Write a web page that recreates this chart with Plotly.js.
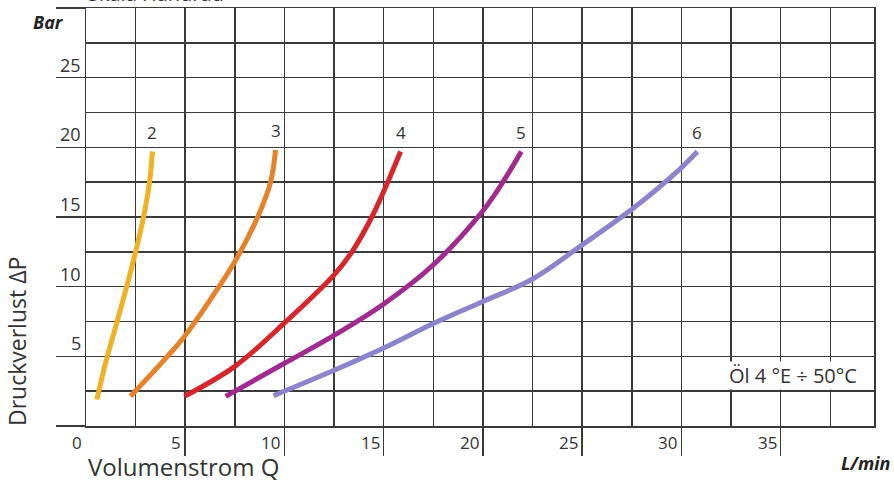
<!DOCTYPE html>
<html>
<head>
<meta charset="utf-8">
<script src="https://cdn.plot.ly/plotly-3.0.1.min.js"></script>
<style>html,body{margin:0;padding:0;background:#fff;}#chart{width:894px;height:480px;}</style>
</head>
<body>
<div id="chart"></div>
<script>
// ---- data ----
const curveNames = ['2', '3', '4', '5', '6'];
const q2 = [0.55, 1.0, 1.55, 2.05, 2.5, 2.9, 3.2, 3.35];
const p2 = [1.9, 4.6, 7.4, 10, 12.5, 15, 17.5, 19.7];
const q3 = [2.24, 4.1, 5.0, 6.7, 7.5, 8.65, 9.3, 9.55];
const p3 = [2.13, 5.0, 6.5, 10, 11.8, 15, 17.5, 19.8];
const q4 = [4.96, 7.5, 10, 12.5, 13.4, 14.4, 15.2, 15.85];
const p4 = [2.13, 4.28, 7.4, 10.85, 12.5, 15, 17.5, 19.7];
const q5 = [7.04, 10, 12.5, 15, 17.5, 20, 21.0, 21.93];
const p5 = [2.13, 4.5, 6.5, 8.75, 11.57, 15.45, 17.5, 19.7];
const q6 = [9.45, 12.5, 15, 17.5, 20, 22.5, 25, 27.5, 30, 30.8];
const p6 = [2.18, 4.0, 5.6, 7.36, 8.94, 10.55, 13.0, 15.55, 18.55, 19.7];
const curveColors = ['#f2b124', '#e8822a', '#d7262b', '#a02a8f', '#8a85cd'];

const xTickVals = [0, 5, 10, 15, 20, 25, 30, 35];
const xTickText = ['0', '5', '10', '15', '20', '25', '30', '35'];
const yTickVals = [0, 5, 10, 15, 20, 25, 30];
const yTickText = ['', '5', '10', '15', '20', '25', ''];

const xTitle = 'Volumenstrom Q';
const yTitle = 'Druckverlust ΔP';
const xUnit = 'L/min';
const yUnit = 'Bar';
const noteText = 'Öl 4 °E ÷ 50°C';
const topText = 'Skala Handrad';

// ---- build ----
const qs = [q2, q3, q4, q5, q6];
const ps = [p2, p3, p4, p5, p6];
const GRID = '#3a3a3a';
const TXT = '#333333';
const FONT = 'Open Sans, Noto Sans, sans-serif';

const traces = curveNames.map((n, i) => ({
  x: qs[i], y: ps[i], name: n, type: 'scatter', mode: 'lines',
  line: {color: curveColors[i], width: 5, shape: 'spline', smoothing: 1},
  hoverinfo: 'skip'
}));

const annotations = [];
// curve numbers above the upper end of each curve
curveNames.forEach((n, i) => {
  const xs = qs[i], ys = ps[i];
  annotations.push({
    x: xs[xs.length - 1], y: ys[ys.length - 1], xref: 'x', yref: 'y',
    text: n, showarrow: false, xanchor: 'center', yanchor: 'bottom', yshift: 6,
    font: {family: FONT, size: 17, color: TXT}
  });
});
// x tick labels: left of the tick line, just under the axis
xTickVals.forEach((v, i) => {
  annotations.push({x: v, y: 0, xref: 'x', yref: 'paper', text: xTickText[i],
    showarrow: false, xanchor: 'right', yanchor: 'top', xshift: -2, yshift: -3,
    font: {family: FONT, size: 17, color: TXT}});
});
// y tick labels: above the tick line, left of the axis
yTickVals.forEach((v, i) => {
  if (!yTickText[i]) return;
  annotations.push({x: 0, y: v, xref: 'paper', yref: 'y', text: yTickText[i],
    showarrow: false, xanchor: 'right', yanchor: 'bottom', xshift: -3, yshift: -1,
    font: {family: FONT, size: 18, color: TXT}});
});
function pa(text, x, y, size, extra) {
  annotations.push(Object.assign({x: x, y: y, xref: 'paper', yref: 'paper', text: text,
    showarrow: false, xanchor: 'center', yanchor: 'middle',
    font: {family: FONT, size: size, color: TXT}}, extra || {}));
}
pa('<b><i>' + yUnit + '</i></b>', -0.0482, 0.9665, 18, {font: {family: FONT, size: 18, color: '#222'}});
pa('<b><i>' + xUnit + '</i></b>', 0.9886, -0.0885, 18, {font: {family: FONT, size: 18, color: '#222'}});
pa(xTitle, 0, -0.098, 24, {xanchor: 'left'});
pa(yTitle, -0.0876, 0.2033, 23, {textangle: -90});
pa(topText, 0.0888, 1.034, 20);
annotations.push({x: 38.9, y: 3.6, xref: 'x', yref: 'y', text: noteText, xanchor: 'right', yanchor: 'middle',
  showarrow: false, bgcolor: '#ffffff', borderpad: 0,
  font: {family: FONT, size: 20, color: TXT}});

const layout = {
  width: 894, height: 480,
  margin: {l: 86, r: 20, t: 8, b: 54},
  paper_bgcolor: '#ffffff', plot_bgcolor: '#ffffff',
  showlegend: false,
  font: {family: FONT, color: TXT},
  xaxis: {
    range: [0, 39.7], tickmode: 'array', tickvals: xTickVals.slice(1),
    ticks: 'outside', ticklen: 28, tickwidth: 1.5, tickcolor: GRID, showticklabels: false,
    showgrid: true, gridcolor: GRID, gridwidth: 1.5,
    minor: {tickmode: 'linear', tick0: 0, dtick: 2.5, showgrid: true, gridcolor: GRID, gridwidth: 1.5, ticks: ''},
    showline: true, mirror: true, linecolor: GRID, linewidth: 1.5, zeroline: false, fixedrange: true
  },
  yaxis: {
    range: [0, 30], tickmode: 'array', tickvals: yTickVals,
    ticks: 'outside', ticklen: 29, tickwidth: 1.5, tickcolor: GRID, showticklabels: false,
    showgrid: true, gridcolor: GRID, gridwidth: 1.5,
    minor: {tickmode: 'linear', tick0: 0, dtick: 2.5, showgrid: true, gridcolor: GRID, gridwidth: 1.5, ticks: ''},
    showline: true, mirror: true, linecolor: GRID, linewidth: 1.5, zeroline: false, fixedrange: true
  },
  annotations: annotations
};

Plotly.newPlot('chart', traces, layout, {staticPlot: true, displayModeBar: false});
</script>
</body>
</html>
